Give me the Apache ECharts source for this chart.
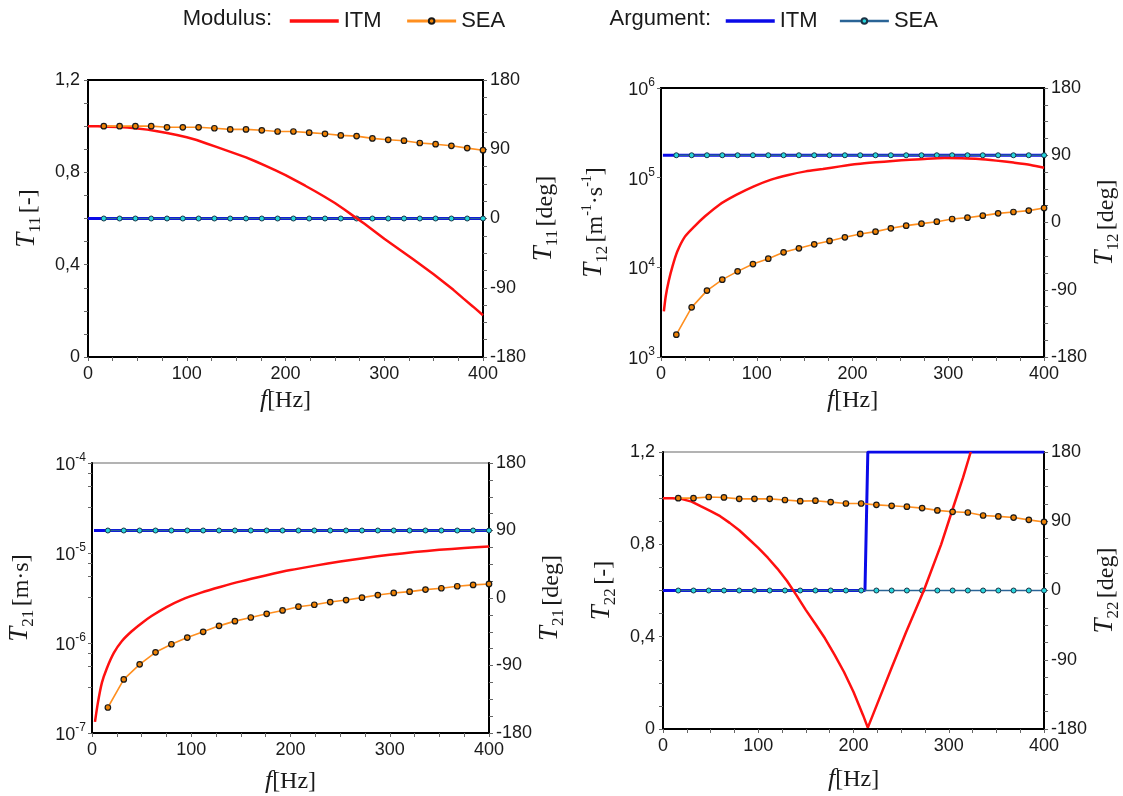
<!DOCTYPE html>
<html>
<head>
<meta charset="utf-8">
<script src="https://cdn.jsdelivr.net/npm/echarts@6/dist/echarts.min.js"></script>
<style>
html,body{margin:0;padding:0;background:#fff;}
#chart{width:1123px;height:796px;}
</style>
</head>
<body>
<div id="chart"></div>
<script>
// ---------- DATA ----------
// SEA sample frequencies (Hz)
const fSEA = [16,32,48,64,80,96,112,128,144,160,176,192,208,224,240,256,272,288,304,320,336,352,368,384,400];

// T11
const fT11ModITM = [0,10,20,30,40,50,60,70,80,90,100,110,120,130,140,150,160,170,180,190,200,210,220,230,240,250,260,270,280,290,300,310,320,330,340,350,360,370,380,390,400];
const t11ModITM = [1.0,1.0,0.998,0.996,0.994,0.99,0.985,0.978,0.97,0.962,0.952,0.94,0.925,0.91,0.895,0.88,0.865,0.847,0.828,0.808,0.788,0.765,0.742,0.718,0.693,0.667,0.638,0.607,0.577,0.545,0.512,0.482,0.452,0.421,0.39,0.358,0.325,0.291,0.254,0.218,0.181];
const t11ModSEA = [1.0,1.0,1.0,1.0,0.995,0.995,0.995,0.991,0.986,0.986,0.982,0.977,0.977,0.972,0.967,0.96,0.957,0.947,0.941,0.937,0.927,0.922,0.915,0.905,0.896];
const fT11ArgITM = [0,400];
const t11ArgITM = [0,0];
const t11ArgSEA = [0,0,0,0,0,0,0,0,0,0,0,0,0,0,0,0,0,0,0,0,0,0,0,0,0];

// T12
const fT12ModITM = [3,5,8,12,17,25,35,46,61,79,97,115,133,151,169,187,205,224,242,260,278,296,314,332,350,368,386,400];
const t12ModITM = [3230,4790,7000,10250,15000,22000,28650,37070,50000,64570,79980,95060,107150,117490,125030,133660,141910,148250,153460,158490,162930,165580,164440,161440,154880,147230,138680,128820];
const t12ModSEA = [1775,3580,5500,7290,9020,10880,12500,14700,16300,18060,19680,21620,23560,25000,27240,29170,30700,32300,34600,35800,37700,40000,41400,42900,45900];
const fT12ArgITM = [2,400];
const t12ArgITM = [90,90];
const t12ArgSEA = [90,90,90,90,90,90,90,90,90,90,90,90,90,90,90,90,90,90,90,90,90,90,90,90,90];

// T21
const fT21ModITM = [3,6,10,15,22,30,40,50,60,75,90,110,130,150,175,200,225,250,275,300,325,350,375,400];
const t21ModITM = [1.33e-7,2.19e-7,3.63e-7,5.25e-7,7.76e-7,1.047e-6,1.349e-6,1.66e-6,1.995e-6,2.51e-6,3.02e-6,3.63e-6,4.22e-6,4.84e-6,5.62e-6,6.46e-6,7.24e-6,8.04e-6,8.81e-6,9.55e-6,1.023e-5,1.084e-5,1.135e-5,1.18e-5];
const t21ModSEA = [1.92e-7,3.94e-7,5.79e-7,7.88e-7,9.68e-7,1.15e-6,1.33e-6,1.55e-6,1.75e-6,1.92e-6,2.11e-6,2.3e-6,2.53e-6,2.66e-6,2.85e-6,3.0e-6,3.19e-6,3.41e-6,3.6e-6,3.72e-6,3.92e-6,4.06e-6,4.27e-6,4.42e-6,4.53e-6];
const fT21ArgITM = [2,400];
const t21ArgITM = [90,90];
const t21ArgSEA = [90,90,90,90,90,90,90,90,90,90,90,90,90,90,90,90,90,90,90,90,90,90,90,90,90];

// T22
const fT22ModITM = [0,10,20,30,40,50,60,70,80,90,100,110,120,130,140,150,160,170,180,190,200,210,215,225,240,255,274,292,305,315,323];
const t22ModITM = [1.0,1.0,0.996,0.985,0.964,0.944,0.922,0.893,0.861,0.823,0.785,0.742,0.695,0.642,0.58,0.515,0.455,0.393,0.322,0.247,0.16,0.06,0.006,0.11,0.265,0.418,0.602,0.8,0.965,1.09,1.2];
const t22ModSEA = [1.0,1.0,1.005,1.003,0.997,0.997,0.997,0.992,0.987,0.989,0.983,0.977,0.977,0.971,0.967,0.963,0.957,0.947,0.941,0.938,0.925,0.921,0.916,0.906,0.897];
const fT22ArgITM = [0,212,215,400];
const t22ArgITM = [0,0,180,180];
const t22ArgSEA = [0,0,0,0,0,0,0,0,0,0,0,0,0,0,0,0,0,0,0,0,0,0,0,0,0];

// Tick label values
const linTicks = {min: 0, max: 1.2, interval: 0.4};
const degTicks = {min: -180, max: 180, interval: 90};
const freqTicks = {min: 0, max: 400, interval: 100};

// Axis titles (rich text)
const nameLeft = ['{t|T}{s|11} {n|[-]}', '{t|T}{s|12} {n|[m}{p|-1}{n|·s}{p|-1}{n|]}', '{t|T}{s|21} {n|[m·s]}', '{t|T}{s|22} {n|[-]}'];
const nameRight = ['{t|T}{s|11} {n|[deg]}', '{t|T}{s|12} {n|[deg]}', '{t|T}{s|21} {n|[deg]}', '{t|T}{s|22} {n|[deg]}'];
const nameX = '{fi|f}{n|[Hz]}';

// ---------- STYLE / LAYOUT ----------
const C_RED = '#ff1010', C_ORANGE = '#ff8f1f', C_BLUE = '#0a0ae8', C_TEAL = '#2a6496';
const grids = [
  {left: 88, top: 80, width: 395, height: 277, border: '#000', bw: 2},
  {left: 661, top: 88, width: 397, height: 269, border: '#000', bw: 2},
  {left: 92, top: 463, width: 397, height: 270, border: '#9a9a9a', bw: 1.5},
  {left: 663, top: 452, width: 394, height: 277, border: '#9a9a9a', bw: 1.5}
];
const xNameGap = [28, 28, 33, 35];
const leftNameGap = [44, 50, 55, 44];
const rightNameGap = [36, 36, 36, 35];
const redSmooth = [false, 0.25, 0.25, false];

const serif = '"Liberation Serif", "DejaVu Serif", serif';
const sans = '"Liberation Sans", Arial, sans-serif';
const nameRich = {
  t: {fontFamily: serif, fontStyle: 'italic', fontSize: 27, lineHeight: 28, verticalAlign: 'top', color: '#1a1a1a'},
  s: {fontFamily: serif, fontSize: 17, lineHeight: 17, verticalAlign: 'bottom', color: '#1a1a1a'},
  n: {fontFamily: serif, fontSize: 24, lineHeight: 31, verticalAlign: 'middle', color: '#1a1a1a'},
  p: {fontFamily: serif, fontSize: 14, lineHeight: 14, verticalAlign: 'top', color: '#1a1a1a'},
  fi: {fontFamily: serif, fontStyle: 'italic', fontSize: 26, lineHeight: 28, color: '#1a1a1a'}
};
const supRich = {
  b: {fontFamily: sans, fontSize: 18, lineHeight: 22, verticalAlign: 'bottom', color: '#1a1a1a'},
  p: {fontFamily: sans, fontSize: 12, lineHeight: 12, verticalAlign: 'top', color: '#1a1a1a'}
};
const tickStyle = {length: 4, lineStyle: {color: '#666', width: 1}};
const axisLineStyle = {onZero: false, lineStyle: {color: '#000', width: 2}};
const labelStyle = {fontSize: 18, color: '#1a1a1a', fontFamily: sans};

function pairs(xs, ys) { return xs.map((x, i) => [x, ys[i]]); }

const xAxes = [], yAxes = [], series = [], gridOpts = [];
const leftLog = [null, {min: 1e3, max: 1e6}, {min: 1e-7, max: 1e-4}, null];
const modITM = [[fT11ModITM, t11ModITM], [fT12ModITM, t12ModITM], [fT21ModITM, t21ModITM], [fT22ModITM, t22ModITM]];
const modSEA = [t11ModSEA, t12ModSEA, t21ModSEA, t22ModSEA];
const argITM = [[fT11ArgITM, t11ArgITM], [fT12ArgITM, t12ArgITM], [fT21ArgITM, t21ArgITM], [fT22ArgITM, t22ArgITM]];
const argSEA = [t11ArgSEA, t12ArgSEA, t21ArgSEA, t22ArgSEA];

for (let i = 0; i < 4; i++) {
  const g = grids[i];
  gridOpts.push({left: g.left, top: g.top, width: g.width, height: g.height, show: true,
    borderColor: g.border, borderWidth: g.bw, backgroundColor: 'transparent', containLabel: false});
  xAxes.push({
    gridIndex: i, type: 'value', min: freqTicks.min, max: freqTicks.max, interval: freqTicks.interval,
    axisLine: axisLineStyle, axisTick: tickStyle,
    minorTick: {show: true, splitNumber: 4, length: 4, lineStyle: {color: '#666'}},
    axisLabel: Object.assign({margin: 8}, labelStyle),
    splitLine: {show: false}, minorSplitLine: {show: false},
    name: nameX, nameLocation: 'middle', nameGap: xNameGap[i],
    nameTextStyle: {rich: nameRich}
  });
  if (leftLog[i]) {
    yAxes.push({
      gridIndex: i, type: 'log', logBase: 10, min: leftLog[i].min, max: leftLog[i].max, position: 'left',
      axisLine: axisLineStyle, axisTick: tickStyle,
      minorTick: {show: i === 2, splitNumber: 4, length: 4, lineStyle: {color: '#666'}},
      axisLabel: {margin: 6, formatter: v => '{b|10}{p|' + Math.round(Math.log10(v)) + '}', rich: supRich},
      splitLine: {show: false}, minorSplitLine: {show: false},
      name: nameLeft[i], nameLocation: 'middle', nameRotate: 90, nameGap: leftNameGap[i],
      nameTextStyle: {rich: nameRich}
    });
  } else {
    yAxes.push({
      gridIndex: i, type: 'value', min: linTicks.min, max: linTicks.max, interval: linTicks.interval, position: 'left',
      axisLine: axisLineStyle, axisTick: tickStyle,
      minorTick: {show: true, splitNumber: 4, length: 4, lineStyle: {color: '#666'}},
      axisLabel: Object.assign({margin: 8, formatter: v => v === 0 ? '0' : v.toFixed(1).replace('.', ',')}, labelStyle),
      splitLine: {show: false}, minorSplitLine: {show: false},
      name: nameLeft[i], nameLocation: 'middle', nameRotate: 90, nameGap: leftNameGap[i],
      nameTextStyle: {rich: nameRich}
    });
  }
  yAxes.push({
    gridIndex: i, type: 'value', min: degTicks.min, max: degTicks.max, interval: degTicks.interval, position: 'right',
    axisLine: axisLineStyle, axisTick: tickStyle,
    minorTick: {show: true, splitNumber: 4, length: 4, lineStyle: {color: '#666'}},
    axisLabel: Object.assign({margin: 7}, labelStyle),
    splitLine: {show: false}, minorSplitLine: {show: false},
    name: nameRight[i], nameLocation: 'middle', nameRotate: 90, nameGap: rightNameGap[i],
    nameTextStyle: {rich: nameRich}
  });
  const yl = 2 * i, yr = 2 * i + 1;
  series.push({
    name: 'Argument ITM', type: 'line', xAxisIndex: i, yAxisIndex: yr, z: 2,
    data: pairs(argITM[i][0], argITM[i][1]), symbol: 'none',
    lineStyle: {color: C_BLUE, width: 3}, itemStyle: {color: C_BLUE}
  });
  series.push({
    name: 'Argument SEA', type: 'line', xAxisIndex: i, yAxisIndex: yr, z: 3,
    data: pairs(fSEA, argSEA[i]), symbol: 'circle', symbolSize: 5, showSymbol: true,
    lineStyle: {color: C_TEAL, width: 1.3},
    itemStyle: {color: '#27d6dc', borderColor: '#1b3346', borderWidth: 1}
  });
  series.push({
    name: 'Modulus ITM', type: 'line', xAxisIndex: i, yAxisIndex: yl, z: 4,
    data: pairs(modITM[i][0], modITM[i][1]), symbol: 'none', smooth: redSmooth[i],
    lineStyle: {color: C_RED, width: 2.5}, itemStyle: {color: C_RED}
  });
  series.push({
    name: 'Modulus SEA', type: 'line', xAxisIndex: i, yAxisIndex: yl, z: 5,
    data: pairs(fSEA, modSEA[i]), symbol: 'circle', symbolSize: 5.5, showSymbol: true,
    lineStyle: {color: C_ORANGE, width: 1.6},
    itemStyle: {color: '#ee8205', borderColor: '#1a1a1a', borderWidth: 1.2}
  });
}

const legendText = {fontSize: 22, color: '#1a1a1a', fontFamily: sans};
const option = {
  animation: false,
  textStyle: {fontFamily: sans},
  grid: gridOpts,
  xAxis: xAxes,
  yAxis: yAxes,
  legend: [
    {left: 283, top: 5, itemWidth: 49, itemHeight: 7, itemGap: 24, selectedMode: false,
     data: [{name: 'Modulus ITM', lineStyle: {width: 3.5}, itemStyle: {opacity: 0}}, {name: 'Modulus SEA', lineStyle: {width: 3}}],
     formatter: n => n.split(' ')[1], textStyle: legendText},
    {left: 719, top: 5, itemWidth: 49, itemHeight: 7, itemGap: 21, selectedMode: false,
     data: [{name: 'Argument ITM', lineStyle: {width: 3.5}, itemStyle: {opacity: 0}}, {name: 'Argument SEA', lineStyle: {width: 2.5}}],
     formatter: n => n.split(' ')[1], textStyle: legendText}
  ],
  graphic: [
    {type: 'text', x: 272, y: 19, style: {text: 'Modulus:', align: 'right', textAlign: 'right', verticalAlign: 'middle', textVerticalAlign: 'middle', font: '22px "Liberation Sans", Arial, sans-serif', fill: '#1a1a1a'}},
    {type: 'text', x: 711, y: 19, style: {text: 'Argument:', align: 'right', textAlign: 'right', verticalAlign: 'middle', textVerticalAlign: 'middle', font: '22px "Liberation Sans", Arial, sans-serif', fill: '#1a1a1a'}}
  ],
  series: series
};

const chart = echarts.init(document.getElementById('chart'), null, {renderer: 'canvas'});
chart.setOption(option);
</script>
</body>
</html>
